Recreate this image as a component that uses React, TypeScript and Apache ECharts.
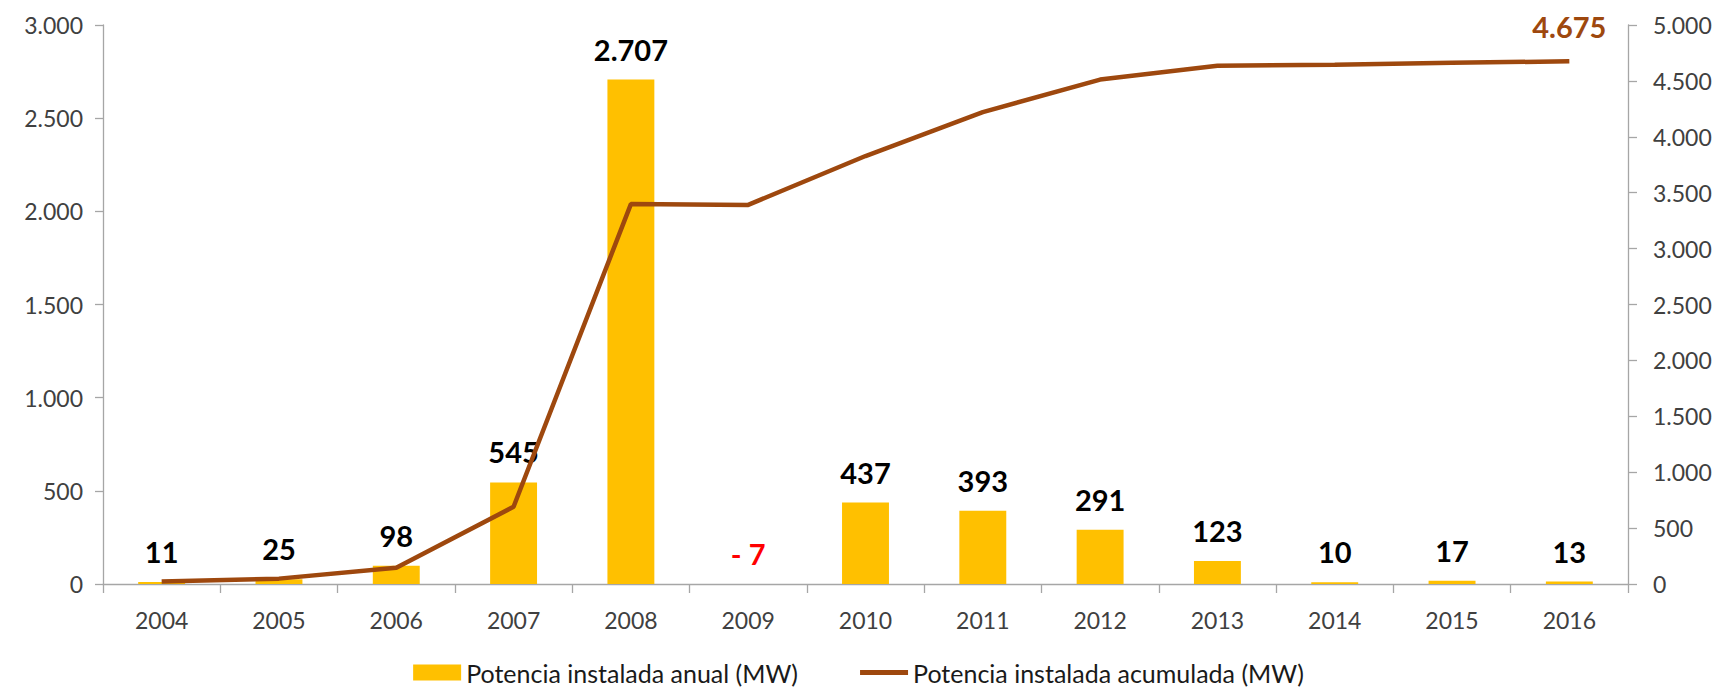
import React, { useEffect, useRef } from "react";
import * as echarts from "echarts";

const years = ["2004", "2005", "2006", "2007", "2008", "2009", "2010", "2011", "2012", "2013", "2014", "2015", "2016"];
const annual = [11, 25, 98, 545, 2707, -7, 437, 393, 291, 123, 10, 17, 13];
const cumulative = [23, 48, 146, 691, 3398, 3391, 3828, 4221, 4512, 4635, 4645, 4662, 4675];
const leftTicks = { min: 0, max: 3000, interval: 500 };
const rightTicks = { min: 0, max: 5000, interval: 500 };

const fmt = (v: number) => {
  const neg = v < 0;
  const s = String(Math.abs(Math.round(v)));
  const withDots = s.replace(/\B(?=(\d{3})+(?!\d))/g, ".");
  return neg ? "- " + withDots : withDots;
};

export default function App() {
  const ref = useRef<HTMLDivElement>(null);
  useEffect(() => {
    if (!ref.current) return;
    const chart = echarts.init(ref.current, undefined, { renderer: "svg" });
    const axisLine = { show: true, lineStyle: { color: "#A6A6A6", width: 1.3 } };
    const tickFont = { fontFamily: "Lato", fontSize: 23, color: "#404040" };
    chart.setOption({
      animation: false,
      backgroundColor: "#ffffff",
      grid: { left: 103, right: 89, top: 25, bottom: 104 },
      legend: {
        top: 655,
        left: "center",
        itemWidth: 48,
        itemHeight: 16,
        itemGap: 62,
        textStyle: { fontFamily: "Lato", fontSize: 25, color: "#1a1a1a" },
        data: [
          { name: "Potencia instalada anual (MW)", icon: "rect" },
          { name: "Potencia instalada acumulada (MW)", icon: "path://M0,0 L48,0 L48,5 L0,5 Z" },
        ],
      },
      xAxis: {
        type: "category",
        data: years,
        axisLine,
        axisTick: { show: true, length: 9, lineStyle: { color: "#A6A6A6", width: 1.3 } },
        axisLabel: { ...tickFont, margin: 24 },
      },
      yAxis: [
        {
          type: "value",
          ...leftTicks,
          axisLine,
          axisTick: { show: true, length: 8, lineStyle: { color: "#A6A6A6", width: 1.3 } },
          splitLine: { show: false },
          axisLabel: { ...tickFont, margin: 20, formatter: (v: number) => fmt(v) },
        },
        {
          type: "value",
          ...rightTicks,
          position: "right",
          axisLine,
          axisTick: { show: true, length: 9, lineStyle: { color: "#A6A6A6", width: 1.3 } },
          splitLine: { show: false },
          axisLabel: { ...tickFont, margin: 25, formatter: (v: number) => fmt(v) },
        },
      ],
      series: [
        {
          name: "Potencia instalada anual (MW)",
          type: "bar",
          yAxisIndex: 0,
          barWidth: "40%",
          itemStyle: { color: "#FFC000" },
          label: {
            show: true,
            position: "top",
            distance: 16,
            fontFamily: "Lato",
            fontWeight: "bold",
            fontSize: 29,
            color: "#000000",
            formatter: (p: any) => fmt(p.value),
          },
          data: annual.map((v) =>
            v < 0
              ? { value: v, itemStyle: { color: "#E8403A" }, label: { color: "#FF0000", position: "top" } }
              : v
          ),
        },
        {
          name: "Potencia instalada acumulada (MW)",
          type: "line",
          yAxisIndex: 1,
          symbol: "none",
          lineStyle: { color: "#9E480E", width: 4.5 },
          itemStyle: { color: "#9E480E" },
          data: cumulative,
          markPoint: {
            symbol: "rect",
            symbolSize: 0,
            data: [{ type: "max" }],
            label: {
              show: true,
              position: "top",
              distance: 20,
              fontFamily: "Lato",
              fontWeight: "bold",
              fontSize: 29,
              color: "#9E480E",
              formatter: (p: any) => fmt(p.value),
            },
          },
        },
      ],
    });
    return () => chart.dispose();
  }, []);
  return <div ref={ref} style={{ position: "absolute", left: 0, top: 0, width: 1717, height: 688 }} />;
}
